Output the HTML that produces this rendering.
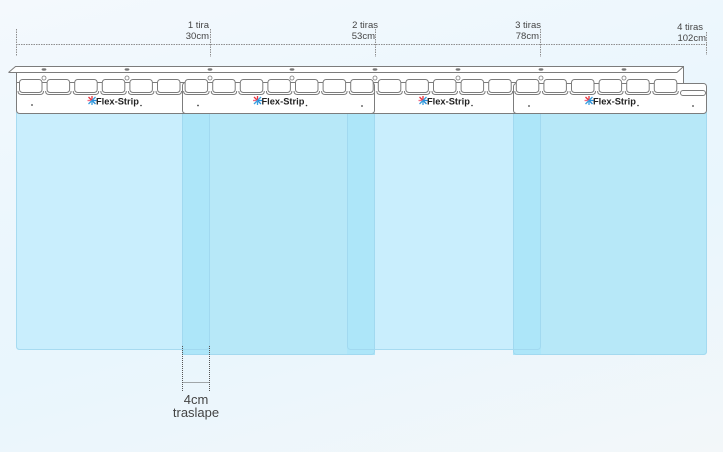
<!DOCTYPE html>
<html><head><meta charset="utf-8"><style>
html,body{margin:0;padding:0;}
body{width:723px;height:452px;overflow:hidden;background:linear-gradient(165deg,#f4f9fd 0%,#eaf6fd 45%,#e9f6fd 60%,#f3f7f9 100%);}
svg{display:block;}
text{font-family:"Liberation Sans",sans-serif;}
</style></head><body>
<svg width="723" height="452" viewBox="0 0 723 452" xmlns="http://www.w3.org/2000/svg">
<!-- dimension line -->
<g stroke="#8e8e8e" stroke-width="1" fill="none">
<line x1="16" y1="44.5" x2="707" y2="44.5" stroke-dasharray="1.5 1"/>
<line x1="16.5" y1="29" x2="16.5" y2="56" stroke-dasharray="1.5 1"/>
<line x1="210.5" y1="29" x2="210.5" y2="57" stroke-dasharray="1.5 1"/>
<line x1="375.5" y1="29" x2="375.5" y2="57" stroke-dasharray="1.5 1"/>
<line x1="540.5" y1="29" x2="540.5" y2="57" stroke-dasharray="1.5 1"/>
<line x1="706.5" y1="32" x2="706.5" y2="55" stroke-dasharray="1.5 1"/>
</g>
<g fill="#444" font-size="9.5" text-anchor="end">
<text x="209" y="28">1 tira</text><text x="209" y="39">30cm</text>
<text x="378" y="28">2 tiras</text><text x="375" y="39">53cm</text>
<text x="541" y="28">3 tiras</text><text x="539" y="39">78cm</text>
<text x="703" y="30">4 tiras</text><text x="706" y="41">102cm</text>
</g>

<!-- strip bodies -->
<g>
<rect x="16" y="110" width="194" height="240" rx="3" fill="#c9eefd"/>
<rect x="347" y="110" width="194" height="240" rx="3" fill="#c9eefd"/>
<rect x="182" y="110" width="193" height="245" rx="3" fill="#b7e8f8"/>
<rect x="513" y="110" width="194" height="245" rx="3" fill="#b7e8f8"/>
<rect x="182" y="110" width="28" height="245" fill="#ade6f9"/>
<rect x="347" y="110" width="28" height="245" fill="#ade6f9"/>
<rect x="513" y="110" width="28" height="245" fill="#ade6f9"/>
</g>
<g fill="none" stroke="#9fd6ee" stroke-width="1" opacity="0.8">
<rect x="16.5" y="110.5" width="193" height="239" rx="3"/>
<rect x="347.5" y="110.5" width="193" height="239" rx="3"/>
<rect x="182.5" y="110.5" width="192" height="244" rx="3"/>
<rect x="513.5" y="110.5" width="193" height="244" rx="3"/>
</g>

<!-- rail -->
<path d="M8,72 L15,66 L683,66 L683,83 L16,83 L16,72 Z" fill="#fff"/>
<g stroke="#7c7c7c" stroke-width="1" fill="none">
<path d="M8.5,72.5 L15.5,66.5 L683.5,66.5 L683.5,83"/>
<line x1="8.5" y1="72.5" x2="677" y2="72.5"/>
<line x1="677" y1="72.5" x2="683.5" y2="66.5"/>
</g>

<!-- headers -->
<g fill="#fff" stroke="#7c7c7c" stroke-width="1">
<path d="M16.5,72.5 L16.5,110 Q16.5,113.5 20,113.5 L206,113.5 Q209.5,113.5 209.5,110 L209.5,82.5 L16.5,82.5 Z"/>
<rect x="347.5" y="82.5" width="193" height="31" rx="3"/>
<rect x="182.5" y="82.5" width="192" height="31" rx="3"/>
<rect x="513.5" y="83.5" width="193" height="30" rx="3"/>
<rect x="680.5" y="90.5" width="25" height="5" rx="2.5"/>
</g>

<!-- holes -->
<g fill="#777">
<ellipse cx="44" cy="69.5" rx="2.4" ry="1.2"/><ellipse cx="127" cy="69.5" rx="2.4" ry="1.2"/>
<ellipse cx="210" cy="69.5" rx="2.4" ry="1.2"/><ellipse cx="292" cy="69.5" rx="2.4" ry="1.2"/>
<ellipse cx="375" cy="69.5" rx="2.4" ry="1.2"/><ellipse cx="458" cy="69.5" rx="2.4" ry="1.2"/>
<ellipse cx="541" cy="69.5" rx="2.4" ry="1.2"/><ellipse cx="624" cy="69.5" rx="2.4" ry="1.2"/>
</g>
<g fill="#fff" stroke="#7c7c7c" stroke-width="0.8">
<circle cx="44" cy="78" r="2"/><circle cx="127" cy="78" r="2"/><circle cx="210" cy="78" r="2"/>
<circle cx="292" cy="78" r="2"/><circle cx="375" cy="78" r="2"/><circle cx="458" cy="78" r="2"/>
<circle cx="541" cy="78" r="2"/><circle cx="624" cy="78" r="2"/>
</g>

<!-- small dots -->
<g fill="#444">
<circle cx="32" cy="105" r="0.9"/><circle cx="198" cy="105.5" r="0.9"/>
<circle cx="362" cy="106" r="0.9"/><circle cx="529" cy="106" r="0.9"/><circle cx="693" cy="106" r="0.9"/>
</g>

<!-- overlap dimension -->
<g stroke="#555" stroke-width="1" fill="none" stroke-dasharray="1 1">
<line x1="182.5" y1="346" x2="182.5" y2="392"/>
<line x1="209.5" y1="346" x2="209.5" y2="392"/>
<line x1="182.5" y1="382.5" x2="209.5" y2="382.5"/>
</g>
<g fill="#444" font-size="13" text-anchor="middle">
<text x="196" y="404">4cm</text>
<text x="196" y="417">traslape</text>
</g>

<!-- tabs -->
<g fill="#fff" stroke="#7c7c7c" stroke-width="1">
<path d="M18,91 Q18,94.5 21.5,94.5 L40,94.5 Q43.5,94.5 43.5,91"/><rect x="19.5" y="79.5" width="22.5" height="13" rx="3"/>
<path d="M45.6,91 Q45.6,94.5 49.1,94.5 L67.6,94.5 Q71.1,94.5 71.1,91"/><rect x="47.1" y="79.5" width="22.5" height="13" rx="3"/>
<path d="M73.2,91 Q73.2,94.5 76.7,94.5 L95.2,94.5 Q98.7,94.5 98.7,91"/><rect x="74.7" y="79.5" width="22.5" height="13" rx="3"/>
<path d="M100.8,91 Q100.8,94.5 104.3,94.5 L122.8,94.5 Q126.3,94.5 126.3,91"/><rect x="102.3" y="79.5" width="22.5" height="13" rx="3"/>
<path d="M128.4,91 Q128.4,94.5 131.9,94.5 L150.4,94.5 Q153.9,94.5 153.9,91"/><rect x="129.9" y="79.5" width="22.5" height="13" rx="3"/>
<path d="M156,91 Q156,94.5 159.5,94.5 L178,94.5 Q181.5,94.5 181.5,91"/><rect x="157.5" y="79.5" width="22.5" height="13" rx="3"/>
<path d="M183.6,91 Q183.6,94.5 187.1,94.5 L205.6,94.5 Q209.1,94.5 209.1,91"/><rect x="185.1" y="79.5" width="22.5" height="13" rx="3"/>
<path d="M211.2,91 Q211.2,94.5 214.7,94.5 L233.2,94.5 Q236.7,94.5 236.7,91"/><rect x="212.7" y="79.5" width="22.5" height="13" rx="3"/>
<path d="M238.8,91 Q238.8,94.5 242.3,94.5 L260.8,94.5 Q264.3,94.5 264.3,91"/><rect x="240.3" y="79.5" width="22.5" height="13" rx="3"/>
<path d="M266.4,91 Q266.4,94.5 269.9,94.5 L288.4,94.5 Q291.9,94.5 291.9,91"/><rect x="267.9" y="79.5" width="22.5" height="13" rx="3"/>
<path d="M294,91 Q294,94.5 297.5,94.5 L316,94.5 Q319.5,94.5 319.5,91"/><rect x="295.5" y="79.5" width="22.5" height="13" rx="3"/>
<path d="M321.6,91 Q321.6,94.5 325.1,94.5 L343.6,94.5 Q347.1,94.5 347.1,91"/><rect x="323.1" y="79.5" width="22.5" height="13" rx="3"/>
<path d="M349.2,91 Q349.2,94.5 352.7,94.5 L371.2,94.5 Q374.7,94.5 374.7,91"/><rect x="350.7" y="79.5" width="22.5" height="13" rx="3"/>
<path d="M376.8,91 Q376.8,94.5 380.3,94.5 L398.8,94.5 Q402.3,94.5 402.3,91"/><rect x="378.3" y="79.5" width="22.5" height="13" rx="3"/>
<path d="M404.4,91 Q404.4,94.5 407.9,94.5 L426.4,94.5 Q429.9,94.5 429.9,91"/><rect x="405.9" y="79.5" width="22.5" height="13" rx="3"/>
<path d="M432,91 Q432,94.5 435.5,94.5 L454,94.5 Q457.5,94.5 457.5,91"/><rect x="433.5" y="79.5" width="22.5" height="13" rx="3"/>
<path d="M459.6,91 Q459.6,94.5 463.1,94.5 L481.6,94.5 Q485.1,94.5 485.1,91"/><rect x="461.1" y="79.5" width="22.5" height="13" rx="3"/>
<path d="M487.2,91 Q487.2,94.5 490.7,94.5 L509.2,94.5 Q512.7,94.5 512.7,91"/><rect x="488.7" y="79.5" width="22.5" height="13" rx="3"/>
<path d="M514.8,91 Q514.8,94.5 518.3,94.5 L536.8,94.5 Q540.3,94.5 540.3,91"/><rect x="516.3" y="79.5" width="22.5" height="13" rx="3"/>
<path d="M542.4,91 Q542.4,94.5 545.9,94.5 L564.4,94.5 Q567.9,94.5 567.9,91"/><rect x="543.9" y="79.5" width="22.5" height="13" rx="3"/>
<path d="M570,91 Q570,94.5 573.5,94.5 L592,94.5 Q595.5,94.5 595.5,91"/><rect x="571.5" y="79.5" width="22.5" height="13" rx="3"/>
<path d="M597.6,91 Q597.6,94.5 601.1,94.5 L619.6,94.5 Q623.1,94.5 623.1,91"/><rect x="599.1" y="79.5" width="22.5" height="13" rx="3"/>
<path d="M625.2,91 Q625.2,94.5 628.7,94.5 L647.2,94.5 Q650.7,94.5 650.7,91"/><rect x="626.7" y="79.5" width="22.5" height="13" rx="3"/>
<path d="M652.8,91 Q652.8,94.5 656.3,94.5 L674.8,94.5 Q678.3,94.5 678.3,91"/><rect x="654.3" y="79.5" width="22.5" height="13" rx="3"/>
</g>

<!-- logos -->
<g>
<g transform="translate(92,100.5)">
<g stroke-width="1.3"><line x1="-3.5" y1="-3.5" x2="0" y2="0" stroke="#e8323c"/><line x1="0" y1="-4.5" x2="0" y2="0" stroke="#e8323c"/><line x1="-4.5" y1="0" x2="0" y2="0" stroke="#f06a80"/><line x1="0" y1="0" x2="3.5" y2="-3.5" stroke="#3aa0e0"/><line x1="0" y1="0" x2="4.5" y2="0" stroke="#2a8fd8"/><line x1="0" y1="0" x2="3.5" y2="3.5" stroke="#2a8fd8"/><line x1="0" y1="0" x2="0" y2="4.5" stroke="#3aa0e0"/><line x1="0" y1="0" x2="-3.5" y2="3.5" stroke="#3aa0e0"/></g>
</g>
<text x="96" y="104.5" font-size="9.3" font-weight="bold" fill="#222">Flex-Strip</text>
<circle cx="141" cy="105.5" r="0.8" fill="#333"/>

<g transform="translate(257.5,100.5)">
<g stroke-width="1.3"><line x1="-3.5" y1="-3.5" x2="0" y2="0" stroke="#e8323c"/><line x1="0" y1="-4.5" x2="0" y2="0" stroke="#e8323c"/><line x1="-4.5" y1="0" x2="0" y2="0" stroke="#f06a80"/><line x1="0" y1="0" x2="3.5" y2="-3.5" stroke="#3aa0e0"/><line x1="0" y1="0" x2="4.5" y2="0" stroke="#2a8fd8"/><line x1="0" y1="0" x2="3.5" y2="3.5" stroke="#2a8fd8"/><line x1="0" y1="0" x2="0" y2="4.5" stroke="#3aa0e0"/><line x1="0" y1="0" x2="-3.5" y2="3.5" stroke="#3aa0e0"/></g>
</g>
<text x="261.5" y="104.5" font-size="9.3" font-weight="bold" fill="#222">Flex-Strip</text>
<circle cx="306.5" cy="105.5" r="0.8" fill="#333"/>

<g transform="translate(423,100.5)">
<g stroke-width="1.3"><line x1="-3.5" y1="-3.5" x2="0" y2="0" stroke="#e8323c"/><line x1="0" y1="-4.5" x2="0" y2="0" stroke="#e8323c"/><line x1="-4.5" y1="0" x2="0" y2="0" stroke="#f06a80"/><line x1="0" y1="0" x2="3.5" y2="-3.5" stroke="#3aa0e0"/><line x1="0" y1="0" x2="4.5" y2="0" stroke="#2a8fd8"/><line x1="0" y1="0" x2="3.5" y2="3.5" stroke="#2a8fd8"/><line x1="0" y1="0" x2="0" y2="4.5" stroke="#3aa0e0"/><line x1="0" y1="0" x2="-3.5" y2="3.5" stroke="#3aa0e0"/></g>
</g>
<text x="427" y="104.5" font-size="9.3" font-weight="bold" fill="#222">Flex-Strip</text>
<circle cx="472" cy="105.5" r="0.8" fill="#333"/>

<g transform="translate(589,100.5)">
<g stroke-width="1.3"><line x1="-3.5" y1="-3.5" x2="0" y2="0" stroke="#e8323c"/><line x1="0" y1="-4.5" x2="0" y2="0" stroke="#e8323c"/><line x1="-4.5" y1="0" x2="0" y2="0" stroke="#f06a80"/><line x1="0" y1="0" x2="3.5" y2="-3.5" stroke="#3aa0e0"/><line x1="0" y1="0" x2="4.5" y2="0" stroke="#2a8fd8"/><line x1="0" y1="0" x2="3.5" y2="3.5" stroke="#2a8fd8"/><line x1="0" y1="0" x2="0" y2="4.5" stroke="#3aa0e0"/><line x1="0" y1="0" x2="-3.5" y2="3.5" stroke="#3aa0e0"/></g>
</g>
<text x="593" y="104.5" font-size="9.3" font-weight="bold" fill="#222">Flex-Strip</text>
<circle cx="638" cy="105.5" r="0.8" fill="#333"/>
</g>
</svg>
</body></html>
